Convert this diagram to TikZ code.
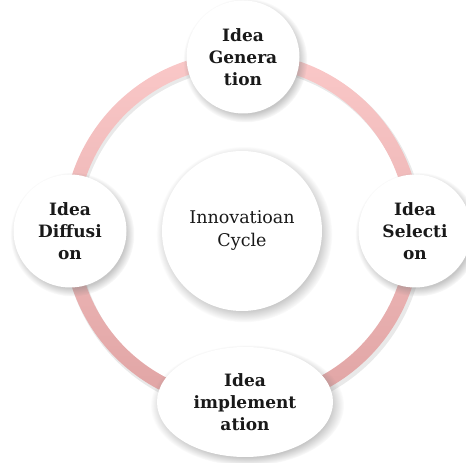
\documentclass[tikz,border=0pt]{standalone}
\usepackage{fontspec}
\setmainfont{DejaVu Serif}
\usetikzlibrary{shapes.geometric,shadows}
\definecolor{ringtop}{RGB}{250,200,200}
\definecolor{ringbottom}{RGB}{224,164,164}
\tikzset{
  basic/.style  = {fill=white, align=center, text=black!90,
                   circular drop shadow={shadow xshift=2pt, shadow yshift=-3pt,
                   opacity=.45}},
  hub/.style    = {basic, circle, minimum size=160pt,
                   font=\fontsize{17.5}{23}\selectfont},
  idea/.style   = {basic, circle, minimum size=113pt,
                   font=\bfseries\fontsize{17}{22}\selectfont},
  wide idea/.style = {basic, ellipse, minimum width=176pt, minimum height=110pt,
                   font=\bfseries\fontsize{17}{22}\selectfont}
}

\begin{document}
\begin{tikzpicture}[x=1pt, y=1pt]
\useasboundingbox (0,0) rectangle (466,463);

% the ring behind the nodes, with a soft shadow under it
\coordinate (c) at (242,232);
\path[fill=black!25, opacity=.35, even odd rule]
  ([shift={(2,-3)}]c) circle (180) ([shift={(2,-3)}]c) circle (165);
\shade[top color=ringtop, bottom color=ringbottom, even odd rule]
  (c) circle (179) (c) circle (165);

% hub in the middle
\node[hub] (hub) at (c) {Innovatioan\\Cycle};

% the four steps round the ring
\node[idea] (gen) at (243,406) {Idea\\Genera\\tion};
\node[idea] (sel) at (415,232) {Idea\\Selecti\\on};
\node[wide idea] (imp) at (245,61) {Idea\\implement\\ation};
\node[idea] (dif) at (70,232) {Idea\\Diffusi\\on};
\end{tikzpicture}
\end{document}
